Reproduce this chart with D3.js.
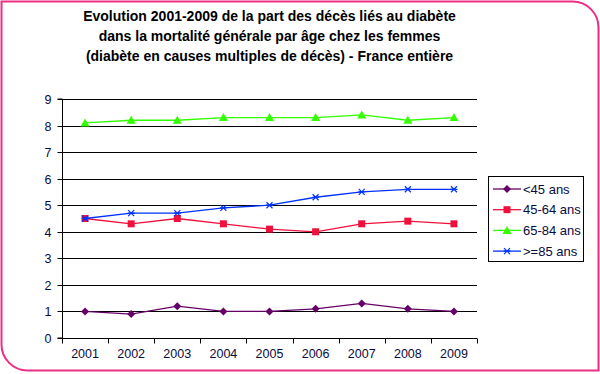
<!DOCTYPE html>
<html><head><meta charset="utf-8">
<script src="https://cdn.jsdelivr.net/npm/d3@7/dist/d3.min.js"></script>
<style>body{margin:0;background:#fff;}svg{display:block;font-family:"Liberation Sans",Arial,sans-serif;}</style>
</head><body>
<svg id="c" width="600" height="374"></svg>
<script>
const years = ["2001","2002","2003","2004","2005","2006","2007","2008","2009"];
const yTicks = [0,1,2,3,4,5,6,7,8,9];
const titleLines = ["Evolution 2001-2009 de la part des décès liés au diabète","dans la mortalité générale par âge chez les femmes","(diabète en causes multiples de décès) - France entière"];
const seriesNames = ["<45 ans","45-64 ans","65-84 ans",">=85 ans"];
const under45 = [1.0,0.9,1.2,1.0,1.0,1.1,1.3,1.1,1.0];
const age45_64 = [4.5,4.3,4.5,4.3,4.1,4.0,4.3,4.4,4.3];
const age65_84 = [8.1,8.2,8.2,8.3,8.3,8.3,8.4,8.2,8.3];
const over85 = [4.5,4.7,4.7,4.9,5.0,5.3,5.5,5.6,5.6];
const colors = ["#660066","#F0103C","#33FF00","#0033FF"];
const markers = ["diamond","square","triangle","x"];

const series = [under45, age45_64, age65_84, over85].map((v,i)=>({name:seriesNames[i], values:v, color:colors[i], marker:markers[i]}));

const svg = d3.select("#c");
const W=600,H=374,r=26;
svg.append("path")
  .attr("d",`M1.5,1.5 H${W-1.5-r} A${r},${r} 0 0 1 ${W-1.5},${1.5+r} V${H-3.5} H${1.5+r} A${r},${r} 0 0 1 1.5,${H-3.5-r} Z`)
  .attr("fill","#fff").attr("stroke","#EE2E86").attr("stroke-width",2);

const L=62,R=477,T=99,B=338;
const x = d3.scaleBand().domain(years).range([L,R]);
const y = d3.scaleLinear().domain([0,9]).range([B,T]);

svg.append("g").selectAll("text").data(titleLines).join("text")
  .attr("x",(L+R)/2).attr("y",(d,i)=>21+i*20)
  .attr("text-anchor","middle").attr("font-weight","bold").attr("font-size",14)
  .attr("fill","#000").text(d=>d);

svg.append("g").selectAll("line").data(yTicks.filter(d=>d>0)).join("line")
  .attr("x1",L).attr("x2",R).attr("y1",d=>Math.round(y(d))+0.5).attr("y2",d=>Math.round(y(d))+0.5)
  .attr("stroke","#000").attr("stroke-width",1.2);

const yAxis = d3.axisLeft(y).tickValues(yTicks).tickSize(5).tickPadding(6).tickFormat(d3.format("d"));
const gy = svg.append("g").attr("transform",`translate(${L+0.5},0)`).call(yAxis);
gy.select(".domain").attr("stroke","#000").attr("d",`M-5,${B}H0V${T}H-5`);
gy.selectAll(".tick line").attr("stroke","#000");
gy.selectAll(".tick").attr("transform",d=>`translate(0,${Math.round(y(d))+0.5})`);
gy.selectAll("text").attr("font-size",12.5).attr("fill","#0a0a40").attr("font-family","Liberation Sans, Arial");

const xAxis = d3.axisBottom(x).tickSize(0).tickPadding(11);
const gx = svg.append("g").attr("transform",`translate(0,${B+0.5})`).call(xAxis);
gx.select(".domain").attr("stroke","#000").attr("d",`M${L},0H${R}`);
gx.selectAll("text").attr("font-size",12.5).attr("fill","#0a0a40").attr("font-family","Liberation Sans, Arial");
const bounds = years.map(d=>x(d)).concat([R]);
gx.append("g").selectAll("line").data(bounds).join("line")
  .attr("x1",d=>Math.round(d)+0.5).attr("x2",d=>Math.round(d)+0.5).attr("y1",0).attr("y2",5).attr("stroke","#000");

const cx = d=>x(d)+x.bandwidth()/2;
function drawMarker(g, type, color, px, py){
  if(type==="diamond"){
    g.append("path").attr("d",`M${px},${py-4}L${px+4},${py}L${px},${py+4}L${px-4},${py}Z`).attr("fill",color);
  } else if(type==="square"){
    g.append("rect").attr("x",px-3.5).attr("y",py-3.5).attr("width",7).attr("height",7).attr("fill",color);
  } else if(type==="triangle"){
    g.append("path").attr("d",`M${px},${py-4.5}L${px+4.5},${py+3.5}L${px-4.5},${py+3.5}Z`).attr("fill",color);
  } else {
    g.append("path").attr("d",`M${px-3},${py-3}L${px+3},${py+3}M${px-3},${py+3}L${px+3},${py-3}M${px-3.5},${py}H${px+3.5}`).attr("stroke",color).attr("stroke-width",1.2).attr("fill","none");
  }
}
const line = d3.line().x((d,i)=>cx(years[i])).y(d=>y(d));
series.forEach(s=>{
  const g = svg.append("g");
  g.append("path").attr("d",line(s.values)).attr("fill","none").attr("stroke",s.color).attr("stroke-width",1.3);
  s.values.forEach((v,i)=>drawMarker(g,s.marker,s.color,cx(years[i]),y(v)));
});

const lg = svg.append("g");
lg.append("rect").attr("x",488.5).attr("y",176.5).attr("width",95).attr("height",85).attr("fill","#fff").attr("stroke","#000").attr("stroke-width",1);
series.forEach((s,i)=>{
  const ly = 189 + i*20.7;
  lg.append("line").attr("x1",493).attr("x2",521).attr("y1",ly).attr("y2",ly).attr("stroke",s.color).attr("stroke-width",1.3);
  drawMarker(lg,s.marker,s.color,507,ly);
  lg.append("text").attr("x",523).attr("y",ly+4.5).attr("font-size",13).attr("fill","#0a0a40").text(s.name);
});
</script>
</body></html>
